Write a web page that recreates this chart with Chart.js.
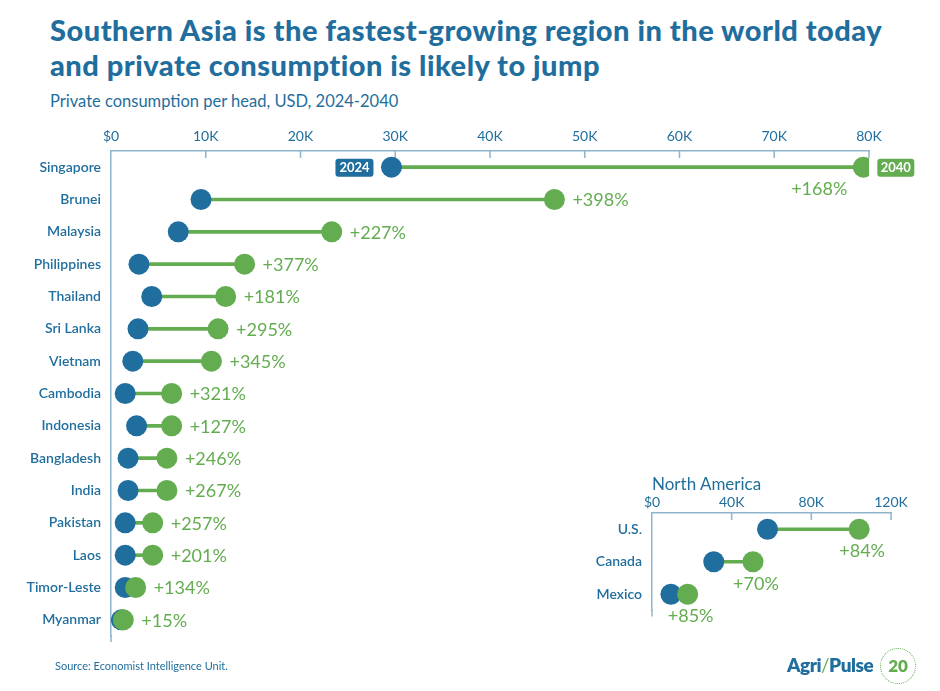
<!DOCTYPE html>
<html>
<head>
<meta charset="utf-8">
<script src="https://cdn.jsdelivr.net/npm/chart.js@4"></script>
<style>
  body { margin: 0; background: #fff; font-family: Lato, sans-serif; }
  #wrap { position: relative; width: 940px; height: 691px; overflow: hidden; }
  #title { position: absolute; left: 50px; top: 12px; color: #1f6e9d; font-weight: 900; font-size: 29px; line-height: 35px; letter-spacing: 0.5px; }
  #subtitle { position: absolute; left: 50px; top: 91px; color: #1f6e9d; font-size: 16.5px; }
  #naTitle { position: absolute; left: 652px; top: 473px; color: #1f6e9d; font-size: 17px; }
  #source { position: absolute; left: 55px; top: 659px; color: #1f6e9d; font-size: 11px; }
  #logo { position: absolute; left: 787px; top: 653px; font-size: 19px; font-weight: 800; color: #1f6e9d; letter-spacing: -0.5px; }
  #logo span { color: #63ad50; font-weight: 400; }
  #badge { position: absolute; left: 880px; top: 648px; width: 34px; height: 34px; border: 1.5px dotted #63ad50; border-radius: 50%; color: #63ad50; font-weight: 800; font-size: 17px; text-align: center; line-height: 34px; }
  canvas { position: absolute; }
</style>
</head>
<body>
<div id="wrap">
  <div id="title">Southern Asia is the fastest-growing region in the world today<br>and private consumption is likely to jump</div>
  <div id="subtitle">Private consumption per head, USD, 2024-2040</div>
  <canvas id="main" width="940" height="691" style="left:0;top:0"></canvas>
  <canvas id="na" width="360" height="170" style="left:560px;top:470px"></canvas>
  <div id="naTitle">North America</div>
  <div id="source">Source: Economist Intelligence Unit.</div>
  <div id="logo">Agri<span>/</span>Pulse</div>
  <div id="badge">20</div>
</div>
<script>
// Southern Asia, private consumption per head (USD)
const countries = ['Singapore', 'Brunei', 'Malaysia', 'Philippines', 'Thailand', 'Sri Lanka', 'Vietnam',
  'Cambodia', 'Indonesia', 'Bangladesh', 'India', 'Pakistan', 'Laos', 'Timor-Leste', 'Myanmar'];
const values2024 = [29600, 9500, 7100, 2950, 4300, 2850, 2300, 1500, 2700, 1800, 1800, 1500, 1500, 1500, 1100];
const values2040 = [79400, 46800, 23300, 14100, 12100, 11300, 10600, 6400, 6400, 5900, 5900, 4400, 4400, 2600, 1300];
const growth = ['+168%', '+398%', '+227%', '+377%', '+181%', '+295%', '+345%', '+321%', '+127%', '+246%',
  '+267%', '+257%', '+201%', '+134%', '+15%'];

// North America inset
const naCountries = ['U.S.', 'Canada', 'Mexico'];
const na2024 = [58000, 31000, 9500];
const na2040 = [104000, 50700, 17900];
const naGrowth = ['+84%', '+70%', '+85%'];

const BLUE = '#1f6e9d';
const GREEN = '#63ad50';
const AXIS = '#8fb4cd';

function kLabel(v) {
  return v === 0 ? '$0' : (v / 1000) + 'K';
}

function roundBox(ctx, x, y, w, h, r) {
  ctx.beginPath();
  ctx.moveTo(x + r, y);
  ctx.lineTo(x + w - r, y);
  ctx.quadraticCurveTo(x + w, y, x + w, y + r);
  ctx.lineTo(x + w, y + h - r);
  ctx.quadraticCurveTo(x + w, y + h, x + w - r, y + h);
  ctx.lineTo(x + r, y + h);
  ctx.quadraticCurveTo(x, y + h, x, y + h - r);
  ctx.lineTo(x, y + r);
  ctx.quadraticCurveTo(x, y, x + r, y);
  ctx.closePath();
}

// inward tick marks and a little tail on the y axis line
const axisExtras = {
  id: 'axisExtras',
  beforeDatasetsDraw(chart) {
    const {ctx, chartArea, scales: {x}} = chart;
    ctx.save();
    ctx.strokeStyle = AXIS;
    ctx.lineWidth = 1.5;
    x.ticks.forEach(t => {
      if (t.value === 0) return;
      const px = x.getPixelForValue(t.value);
      ctx.beginPath();
      ctx.moveTo(px, chartArea.top);
      ctx.lineTo(px, chartArea.top + 7);
      ctx.stroke();
    });
    ctx.beginPath();
    ctx.moveTo(chartArea.left, chartArea.bottom - 1);
    ctx.lineTo(chartArea.left, chartArea.bottom + 6);
    ctx.stroke();
    ctx.restore();
  }
};

const mainLabels = {
  id: 'mainLabels',
  afterDatasetsDraw(chart) {
    const {ctx, scales: {x, y}} = chart;
    ctx.save();
    ctx.font = '18px Lato';
    ctx.fillStyle = GREEN;
    ctx.textBaseline = 'middle';
    countries.forEach((c, i) => {
      const px = x.getPixelForValue(values2040[i]);
      const py = y.getPixelForValue(i);
      if (i === 0) {
        ctx.textAlign = 'right';
        ctx.fillText(growth[i], px - 16, py + 22);
      } else {
        ctx.textAlign = 'left';
        ctx.fillText(growth[i], px + 18, py + 1);
      }
    });
    // year tags on the Singapore row
    const py0 = y.getPixelForValue(0);
    const p24 = x.getPixelForValue(values2024[0]);
    const p40 = x.getPixelForValue(values2040[0]);
    ctx.font = 'bold 13px Lato';
    ctx.textAlign = 'center';
    ctx.fillStyle = BLUE;
    roundBox(ctx, p24 - 56, py0 - 8.5, 38, 18, 3);
    ctx.fill();
    ctx.fillStyle = '#fff';
    ctx.fillText('2024', p24 - 37, py0 + 1);
    ctx.fillStyle = GREEN;
    roundBox(ctx, p40 + 14, py0 - 8.5, 37, 18, 3);
    ctx.fill();
    ctx.fillStyle = '#fff';
    ctx.fillText('2040', p40 + 32.5, py0 + 1);
    ctx.restore();
  }
};

const naLabels = {
  id: 'naLabels',
  afterDatasetsDraw(chart) {
    const {ctx, scales: {x, y}} = chart;
    ctx.save();
    ctx.font = '18px Lato';
    ctx.fillStyle = GREEN;
    ctx.textBaseline = 'middle';
    ctx.textAlign = 'center';
    naCountries.forEach((c, i) => {
      const px = x.getPixelForValue(na2040[i]);
      const py = y.getPixelForValue(i);
      ctx.fillText(naGrowth[i], px + 3, py + 22);
    });
    ctx.restore();
  }
};

function dumbbell(canvasId, labels, from, to, xMax, step, pad, axisH, axisW, tickPad, extraPlugin) {
  return new Chart(document.getElementById(canvasId), {
    data: {
      labels: labels,
      datasets: [
        {
          type: 'bar',
          label: 'change',
          data: labels.map((l, i) => [from[i], to[i]]),
          backgroundColor: GREEN,
          barThickness: 3,
          order: 3
        },
        {
          type: 'line',
          label: '2024',
          data: from,
          showLine: false,
          pointRadius: 10.5,
          pointHoverRadius: 10.5,
          pointBorderWidth: 0,
          pointBackgroundColor: BLUE,
          order: 2
        },
        {
          type: 'line',
          label: '2040',
          data: to,
          showLine: false,
          pointRadius: 10.5,
          pointHoverRadius: 10.5,
          pointBorderWidth: 0,
          pointBackgroundColor: GREEN,
          order: 1
        }
      ]
    },
    options: {
      indexAxis: 'y',
      responsive: false,
      animation: false,
      devicePixelRatio: 1,
      layout: { padding: pad },
      plugins: { legend: { display: false }, tooltip: { enabled: false } },
      scales: {
        x: {
          type: 'linear',
          position: 'top',
          min: 0,
          max: xMax,
          afterFit: s => { s.height = axisH; },
          ticks: {
            stepSize: step,
            padding: tickPad,
            color: BLUE,
            font: { family: 'Lato', size: 14 },
            callback: v => kLabel(v)
          },
          grid: { drawOnChartArea: false, drawTicks: false },
          border: { display: true, color: AXIS, width: 1.5 }
        },
        y: {
          type: 'category',
          offset: true,
          afterFit: s => { s.width = axisW; },
          ticks: {
            padding: 10,
            color: BLUE,
            font: { family: 'Lato', size: 14, weight: 600 }
          },
          grid: { drawOnChartArea: false, drawTicks: false },
          border: { display: true, color: AXIS, width: 1.5 }
        }
      }
    },
    plugins: [axisExtras, extraPlugin]
  });
}

dumbbell('main', countries, values2024, values2040, 80000, 10000,
  { top: 120, left: 0, right: 71, bottom: 55 }, 31, 111, 6, mainLabels);
dumbbell('na', naCountries, na2024, na2040, 120000, 40000,
  { top: 0, left: 0, right: 29, bottom: 29.5 }, 43, 92, 2, naLabels);
</script>
</body>
</html>
